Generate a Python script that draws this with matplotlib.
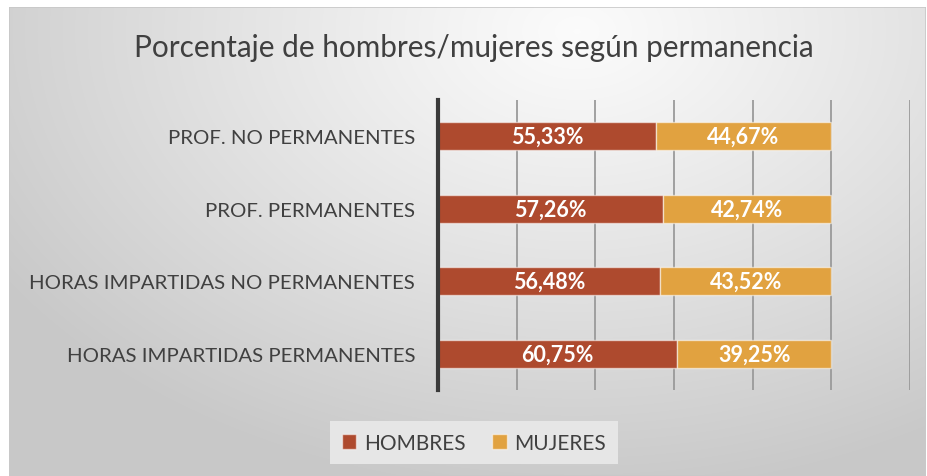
import numpy as np
import matplotlib
matplotlib.use("Agg")
import matplotlib.pyplot as plt
from matplotlib.patches import Rectangle

categories = ["PROF. NO PERMANENTES", "PROF. PERMANENTES",
              "HORAS IMPARTIDAS NO PERMANENTES", "HORAS IMPARTIDAS PERMANENTES"]
hombres = [55.33, 57.26, 56.48, 60.75]
mujeres = [44.67, 42.74, 43.52, 39.25]
series_names = ["HOMBRES", "MUJERES"]
title = "Porcentaje de hombres/mujeres según permanencia"

col_h = "#AE4A2E"
col_m = "#E1A240"
txt_col = "#404040"
FONT = "Lato"

W, H = 928, 477
fig = plt.figure(figsize=(W / 100, H / 100), dpi=100)
fig.patch.set_facecolor("white")

# background chart area with radial gradient
x0, y0, x1, y1 = 9, 8, 926, 477
bg = fig.add_axes([x0 / W, 1 - y1 / H, (x1 - x0) / W, (y1 - y0) / H])
bg.set_axis_off()
nx, ny = 400, 200
gx, gy = np.meshgrid(np.linspace(0, 1, nx), np.linspace(0, 1, ny))
cx, cy = 0.62, 0.05
d = np.sqrt(((gx - cx) * 1.0) ** 2 + ((gy - cy) * 0.75) ** 2)
d = np.clip(d / 0.75, 0, 1)
val = 0.985 - 0.20 * d ** 1.1
img = np.dstack([val, val, val])
bg.imshow(img, aspect="auto", extent=[0, 1, 1, 0], interpolation="bilinear")
bg.set_xlim(0, 1)
bg.set_ylim(1, 0)
bg.add_patch(Rectangle((0, 0), 1, 1, fill=False, edgecolor="#c8c8c8", lw=1.2,
                       transform=bg.transAxes))

# main axes
ax_l, ax_r = 438, 910
ax_t, ax_b = 101, 391
ax = fig.add_axes([ax_l / W, 1 - ax_b / H, (ax_r - ax_l) / W, (ax_b - ax_t) / H])
ax.patch.set_alpha(0)
ypos = np.arange(len(categories))
bh = 0.385
ax.barh(ypos, hombres, height=bh, color=col_h, edgecolor=(1, 1, 1, 0.55), lw=1.0,
        label=series_names[0], zorder=3)
ax.barh(ypos, mujeres, left=hombres, height=bh, color=col_m, edgecolor=(1, 1, 1, 0.55),
        lw=1.0, label=series_names[1], zorder=3)
for i in range(len(categories)):
    ax.text(hombres[i] / 2, ypos[i], f"{hombres[i]:.2f}%".replace(".", ","),
            ha="center", va="center", color="white", fontsize=15.5, fontweight="bold",
            family=FONT, zorder=4)
    ax.text(hombres[i] + mujeres[i] / 2, ypos[i], f"{mujeres[i]:.2f}%".replace(".", ","),
            ha="center", va="center", color="white", fontsize=15.5, fontweight="bold",
            family=FONT, zorder=4)
ax.set_xlim(0, 120)
ax.set_ylim(len(categories) - 0.5, -0.5)
ax.set_xticks(np.arange(20, 121, 20))
ax.xaxis.grid(True, color="#9a9a9a", lw=1.3, zorder=1)
ax.tick_params(axis="x", length=0, labelbottom=False)
ax.set_yticks(ypos)
ax.set_yticklabels(categories, family=FONT, fontsize=14.7, color=txt_col)
ax.tick_params(axis="y", length=0, pad=16.5)
for s in ["top", "right", "bottom"]:
    ax.spines[s].set_visible(False)
ax.spines["left"].set_color("#3a3a3a")
ax.spines["left"].set_linewidth(3)
ax.spines["left"].set_zorder(5)

fig.text(474 / W, 1 - 48 / H, title, ha="center", va="center", fontsize=21.4,
         color=txt_col, family=FONT)

leg = fig.legend(loc="center", bbox_to_anchor=(474 / W, 1 - 443.5 / H), ncol=2,
                 frameon=True, prop={"family": FONT, "size": 15}, handlelength=0.7,
                 handleheight=0.7, handletextpad=0.35, columnspacing=1.3,
                 borderpad=0.55, fancybox=False)
leg.get_frame().set_facecolor("#e6e6e6")
leg.get_frame().set_edgecolor("none")
leg.get_frame().set_alpha(1)
for t in leg.get_texts():
    t.set_color(txt_col)

fig.savefig("out.png", dpi=100)
